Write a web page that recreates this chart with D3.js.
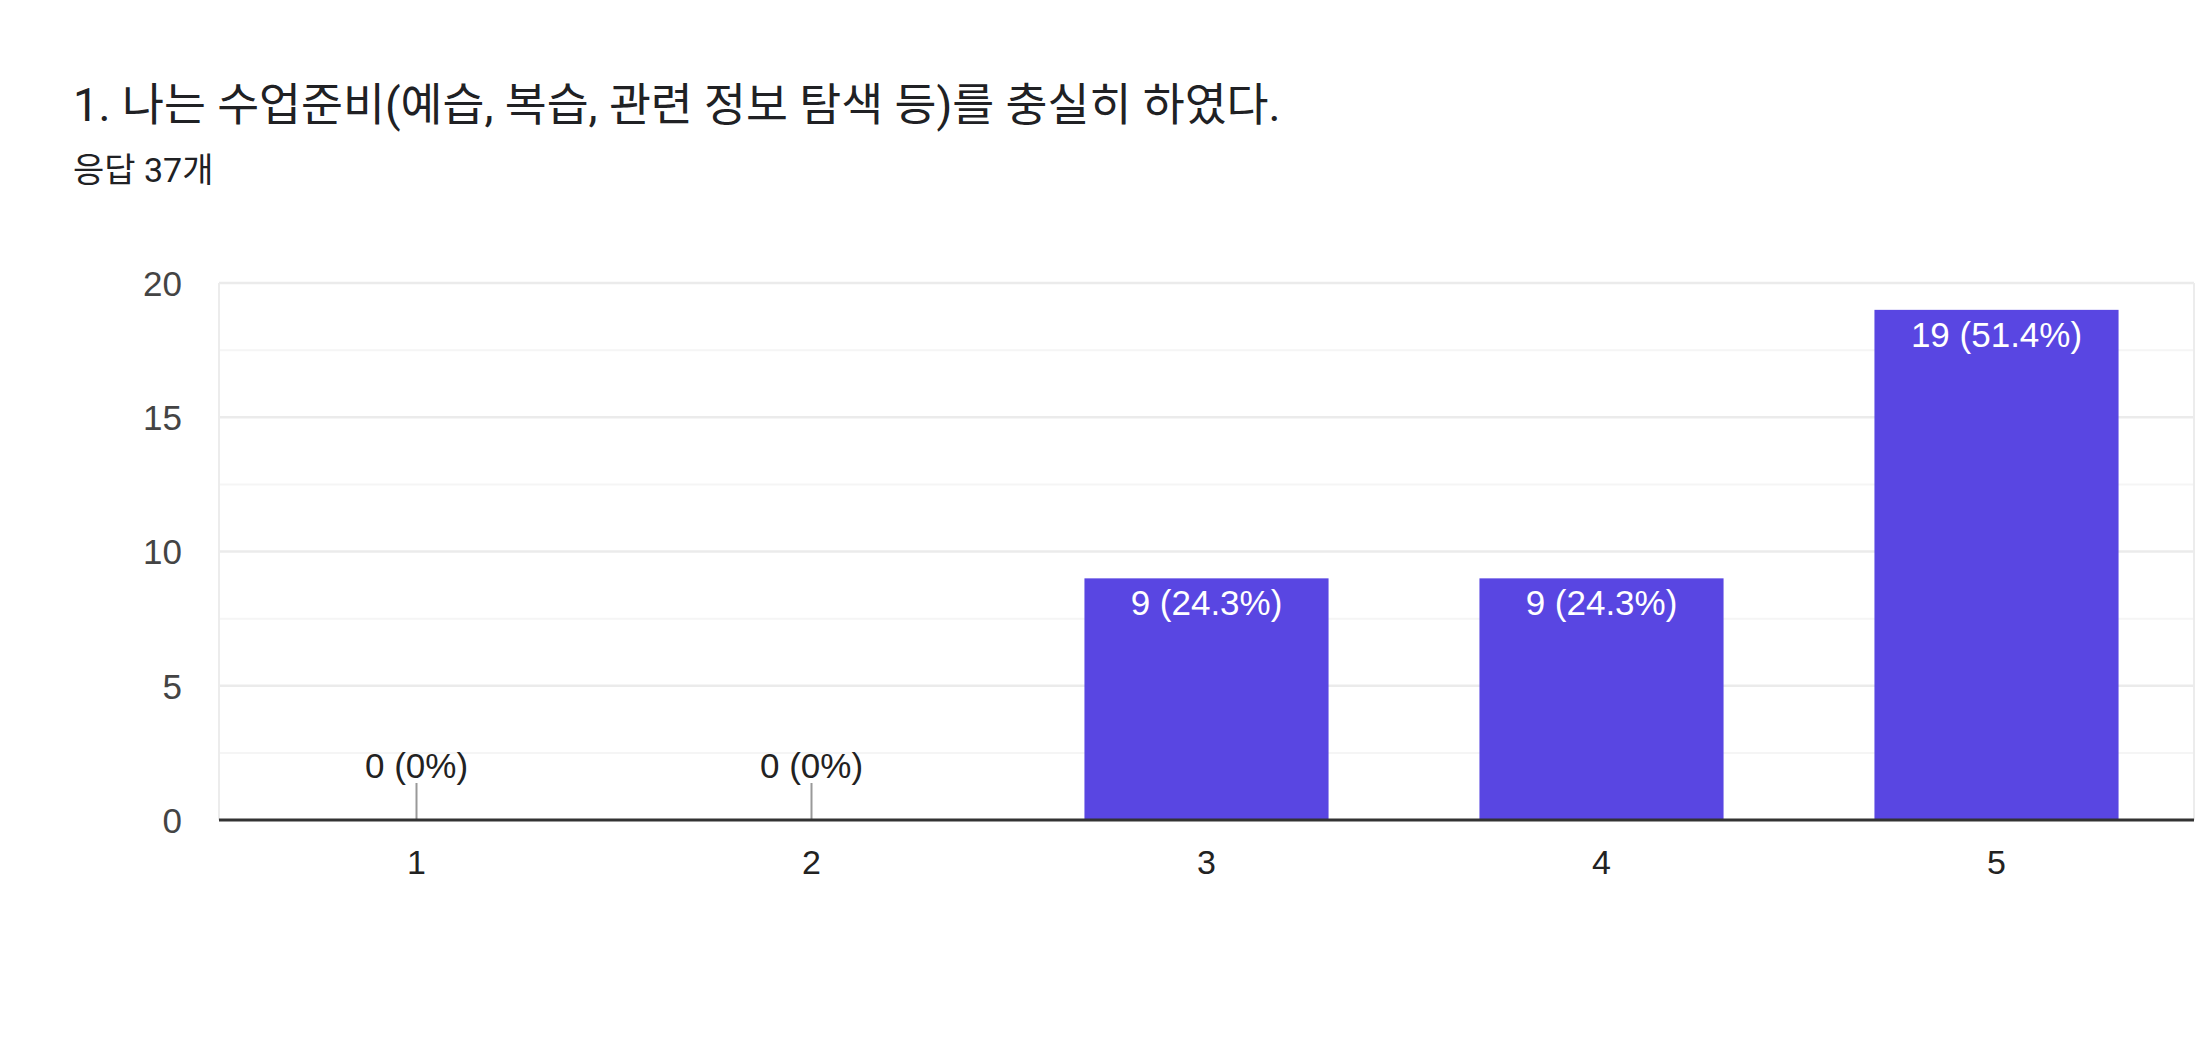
<!DOCTYPE html>
<html>
<head>
<meta charset="utf-8">
<script src="https://cdn.jsdelivr.net/npm/d3@7"></script>
<style>
  html, body { margin: 0; padding: 0; background: #fff; }
  svg { display: block; }
</style>
</head>
<body>
<svg id="chart"></svg>
<script>
// survey answer counts
const title = "1. 나는 수업준비(예습, 복습, 관련 정보 탐색 등)를 충실히 하였다.";
const subtitle = "응답 37개";
const categories = ["1", "2", "3", "4", "5"];
const counts = [0, 0, 9, 9, 19];
const percents = ["0%", "0%", "24.3%", "24.3%", "51.4%"];
const yTicks = [0, 5, 10, 15, 20];
const minorTicks = [2.5, 7.5, 12.5, 17.5];

(function() {
  var W = 2196, H = 1044;
  var left = 219, right = 2194, top = 283, bottom = 820;

  var svg = d3.select("#chart").attr("width", W).attr("height", H);

  var datapoints = categories.map((c, i) => ({cat: c, count: counts[i], pct: percents[i]}));

  const xScale = d3.scaleBand().domain(categories).range([left, right])
    .paddingInner(0.382).paddingOuter(0.191);
  const yScale = d3.scaleLinear().domain([0, 20]).range([bottom, top]);

  // title + subtitle
  svg.append("text")
    .attr("x", 73).attr("y", 121)
    .attr("font-family", "Roboto, 'Noto Sans CJK KR', sans-serif")
    .attr("font-size", 45.6)
    .attr("fill", "#202124")
    .text(title);
  svg.append("text")
    .attr("x", 73).attr("y", 182)
    .attr("font-family", "Roboto, 'Noto Sans CJK KR', sans-serif")
    .attr("font-size", 34)
    .attr("fill", "#202124")
    .text(subtitle);

  // minor grid
  svg.selectAll(".minor").data(minorTicks).enter().append("line")
    .attr("x1", left).attr("x2", right)
    .attr("y1", d => yScale(d)).attr("y2", d => yScale(d))
    .attr("stroke", "#f5f5f5").attr("stroke-width", 2);

  // major grid
  svg.selectAll(".major").data(yTicks.filter(d => d > 0)).enter().append("line")
    .attr("x1", left).attr("x2", right)
    .attr("y1", d => yScale(d)).attr("y2", d => yScale(d))
    .attr("stroke", "#ebebeb").attr("stroke-width", 2.5);

  // frame sides
  svg.append("line").attr("x1", left).attr("x2", left).attr("y1", top).attr("y2", bottom)
    .attr("stroke", "#ececec").attr("stroke-width", 2);
  svg.append("line").attr("x1", right).attr("x2", right).attr("y1", top).attr("y2", bottom)
    .attr("stroke", "#ececec").attr("stroke-width", 2);

  // y axis labels
  const yAxis = d3.axisLeft(yScale).tickValues(yTicks).tickSize(0).tickPadding(0);
  const yg = svg.append("g").attr("transform", "translate(182,0)").call(yAxis);
  yg.select(".domain").remove();
  yg.selectAll("text")
    .attr("font-family", "'Liberation Sans', Arial, sans-serif")
    .attr("font-size", 35)
    .attr("fill", "#444")
    .attr("dy", "0.35em");

  // bars
  svg.selectAll(".bar").data(datapoints.filter(d => d.count > 0)).enter().append("rect")
    .attr("x", d => xScale(d.cat))
    .attr("width", xScale.bandwidth())
    .attr("y", d => yScale(d.count))
    .attr("height", d => yScale(0) - yScale(d.count))
    .attr("fill", "#5946e2");

  // stubs for zero values
  svg.selectAll(".stub").data(datapoints.filter(d => d.count === 0)).enter().append("line")
    .attr("x1", d => xScale(d.cat) + xScale.bandwidth() / 2)
    .attr("x2", d => xScale(d.cat) + xScale.bandwidth() / 2)
    .attr("y1", yScale(0)).attr("y2", yScale(0) - 37)
    .attr("stroke", "#999").attr("stroke-width", 2);

  // value labels
  svg.selectAll(".lbl").data(datapoints).enter().append("text")
    .attr("x", d => xScale(d.cat) + xScale.bandwidth() / 2)
    .attr("y", d => d.count > 0 ? yScale(d.count) + 37 : yScale(0) - 42)
    .attr("text-anchor", "middle")
    .attr("font-family", "'Liberation Sans', Arial, sans-serif")
    .attr("font-size", 35)
    .attr("fill", d => d.count > 0 ? "#fff" : "#222")
    .text(d => `${d.count} (${d.pct})`);

  // baseline
  svg.append("line").attr("x1", left).attr("x2", right)
    .attr("y1", yScale(0)).attr("y2", yScale(0))
    .attr("stroke", "#333").attr("stroke-width", 3);

  // x axis labels
  const xAxis = d3.axisBottom(xScale).tickSize(0).tickPadding(0);
  const xg = svg.append("g").attr("transform", "translate(0,874)").call(xAxis);
  xg.select(".domain").remove();
  xg.selectAll("text")
    .attr("font-family", "'Liberation Sans', Arial, sans-serif")
    .attr("font-size", 34)
    .attr("fill", "#222")
    .attr("dy", 0);
})()
</script>
</body>
</html>
